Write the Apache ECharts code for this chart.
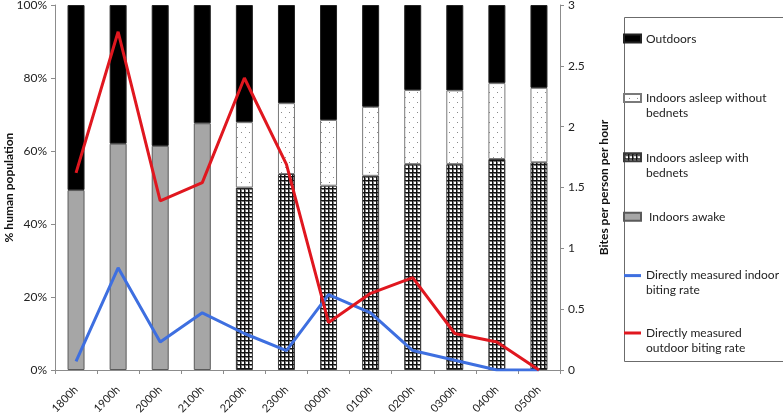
<!DOCTYPE html>
<html>
<head>
<meta charset="utf-8">
<script src="https://cdn.jsdelivr.net/npm/echarts@6/dist/echarts.min.js"></script>
<style>
html,body{margin:0;padding:0;background:#fff;}
#chart{width:783px;height:413px;}
</style>
</head>
<body>
<div id="chart"></div>
<script>
// ---- data ----
var categories = ['1800h','1900h','2000h','2100h','2200h','2300h','0000h','0100h','0200h','0300h','0400h','0500h'];
var indoorsAwake       = [49.3, 62.0, 61.4, 67.6, null, null, null, null, null, null, null, null];
var asleepWithNets     = [null, null, null, null, 50.0, 53.7, 50.5, 53.2, 56.4, 56.4, 57.8, 56.9];
var asleepWithoutNets  = [null, null, null, null, 17.9, 19.4, 18.0, 18.9, 20.3, 20.2, 20.8, 20.4];
var outdoors           = [50.7, 38.0, 38.6, 32.4, 32.1, 26.9, 31.5, 27.9, 23.3, 23.4, 21.4, 22.7];
var indoorBiting       = [0.07, 0.84, 0.23, 0.47, 0.30, 0.16, 0.62, 0.47, 0.16, 0.08, 0.0, 0.0];
var outdoorBiting      = [1.62, 2.78, 1.39, 1.54, 2.40, 1.69, 0.39, 0.63, 0.76, 0.30, 0.23, 0.0];
var leftTicks = {min: 0, max: 100, interval: 20};
var rightTicks = {min: 0, max: 3, interval: 0.5};

var names = {
  out: 'Outdoors',
  without: 'Indoors asleep without bednets',
  with: 'Indoors asleep with bednets',
  awake: 'Indoors awake',
  inRate: 'Directly measured indoor biting rate',
  outRate: 'Directly measured outdoor biting rate'
};
var legendText = {};
legendText[names.out] = 'Outdoors\n ';
legendText[names.without] = 'Indoors asleep without\nbednets';
legendText[names.with] = 'Indoors asleep with\nbednets';
legendText[names.awake] = ' Indoors awake\n ';
legendText[names.inRate] = 'Directly measured indoor\nbiting rate';
legendText[names.outRate] = 'Directly measured\noutdoor biting rate';

// ---- patterns ----
function gridPattern() {
  var c = document.createElement('canvas');
  c.width = 4; c.height = 4;
  var g = c.getContext('2d');
  g.fillStyle = '#ffffff'; g.fillRect(0,0,4,4);
  g.fillStyle = '#7a7a7a';
  g.fillRect(0,1,4,1);
  g.fillRect(1,0,1,4);
  g.fillStyle = '#111111';
  g.fillRect(0,0,4,1);
  g.fillRect(0,0,1,4);
  return c;
}
function dotPattern() {
  var c = document.createElement('canvas');
  c.width = 8; c.height = 10;
  var g = c.getContext('2d');
  g.fillStyle = '#ffffff'; g.fillRect(0,0,8,10);
  g.fillStyle = '#8a8a8a';
  g.fillRect(1,2,1,1);
  g.fillRect(5,7,1,1);
  return c;
}
var gridFill = {image: gridPattern(), repeat: 'repeat'};
var dotFill = {image: dotPattern(), repeat: 'repeat'};

var rectIcon = 'path://M0,3 L17,3 L17,11 L0,11 Z M0,0 M0,30';
var lineIcon = 'path://M0,6 L17,6 L17,9 L0,9 Z M0,0 M0,30';

var chart = echarts.init(document.getElementById('chart'), null, {renderer: 'canvas'});
var fontFam = 'Lato, "Open Sans", sans-serif';
var barW = 17;

var option = {
  animation: false,
  backgroundColor: '#ffffff',
  textStyle: {fontFamily: fontFam},
  grid: {left: 55, right: 223, top: 5, bottom: 43, containLabel: false, outerBoundsMode: 'none'},
  graphic: [{
    type: 'rect', left: 622, top: 15,
    shape: {width: 159, height: 344},
    style: {fill: 'none', stroke: '#6b6b6b', lineWidth: 1}
  }],
  legend: {
    orient: 'vertical',
    left: 623, top: 30.5,
    padding: 0,
    itemGap: 27.4,
    itemWidth: 17, itemHeight: 30,
    textStyle: {fontFamily: fontFam, fontSize: 12, color: '#222', lineHeight: 15},
    formatter: function (n) { return legendText[n] || n; },
    data: [
      {name: names.out, icon: rectIcon},
      {name: names.without, icon: rectIcon},
      {name: names.with, icon: rectIcon},
      {name: names.awake, icon: rectIcon},
      {name: names.inRate, icon: lineIcon},
      {name: names.outRate, icon: lineIcon}
    ]
  },
  xAxis: {
    type: 'category',
    data: categories,
    boundaryGap: true,
    axisLine: {lineStyle: {color: '#8c8c8c', width: 1}},
    axisTick: {show: true, length: 4, alignWithLabel: false, lineStyle: {color: '#8c8c8c'}},
    axisLabel: {rotate: 45, margin: 18, fontSize: 11, color: '#222', fontFamily: fontFam, interval: 0},
    splitLine: {show: false}
  },
  yAxis: [{
    type: 'value',
    min: leftTicks.min, max: leftTicks.max, interval: leftTicks.interval,
    name: '% human population',
    nameLocation: 'middle',
    nameGap: 40,
    nameMoveOverlap: false,
    nameTextStyle: {fontWeight: 'bold', fontSize: 12, color: '#111', fontFamily: fontFam},
    axisLine: {show: true, lineStyle: {color: '#8c8c8c'}},
    axisTick: {show: true, length: 4, lineStyle: {color: '#8c8c8c'}},
    axisLabel: {formatter: '{value}%', fontSize: 12, color: '#222', margin: 8, fontFamily: fontFam},
    splitLine: {show: false}
  }, {
    type: 'value',
    position: 'right',
    min: rightTicks.min, max: rightTicks.max, interval: rightTicks.interval,
    name: 'Bites per person per hour',
    nameLocation: 'middle',
    nameGap: 38,
    nameRotate: 90,
    nameMoveOverlap: false,
    nameTextStyle: {fontWeight: 'bold', fontSize: 12, color: '#111', fontFamily: fontFam},
    axisLine: {show: true, lineStyle: {color: '#8c8c8c'}},
    axisTick: {show: true, length: 4, lineStyle: {color: '#8c8c8c'}},
    axisLabel: {fontSize: 12, color: '#222', margin: 8, fontFamily: fontFam},
    splitLine: {show: false}
  }],
  series: [
    {name: names.awake, type: 'bar', stack: 'pop', barWidth: barW, data: indoorsAwake,
     itemStyle: {color: '#a6a6a6', borderColor: '#5a5a5a', borderWidth: 1}},
    {name: names.with, type: 'bar', stack: 'pop', barWidth: barW, data: asleepWithNets,
     itemStyle: {color: gridFill, borderColor: '#3a3a3a', borderWidth: 1}},
    {name: names.without, type: 'bar', stack: 'pop', barWidth: barW, data: asleepWithoutNets,
     itemStyle: {color: dotFill, borderColor: '#7a7a7a', borderWidth: 1}},
    {name: names.out, type: 'bar', stack: 'pop', barWidth: barW, data: outdoors,
     itemStyle: {color: '#000000', borderColor: '#222', borderWidth: 1}},
    {name: names.inRate, type: 'line', yAxisIndex: 1, data: indoorBiting,
     showSymbol: false, symbol: 'none', lineStyle: {color: '#3e6fe0', width: 3},
     itemStyle: {color: '#3e6fe0'}, z: 5},
    {name: names.outRate, type: 'line', yAxisIndex: 1, data: outdoorBiting,
     showSymbol: false, symbol: 'none', lineStyle: {color: '#e0171f', width: 3},
     itemStyle: {color: '#e0171f'}, z: 6}
  ]
};
chart.setOption(option);
</script>
</body>
</html>
